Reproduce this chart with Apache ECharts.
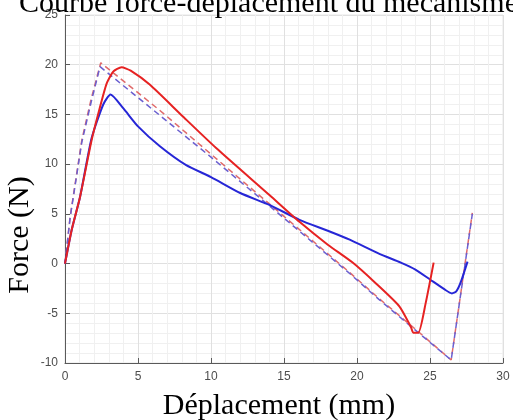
<!DOCTYPE html>
<html>
<head>
<meta charset="utf-8">
<script src="https://cdn.jsdelivr.net/npm/echarts@6/dist/echarts.min.js"></script>
<style>
  html, body { margin: 0; padding: 0; background: #fff; }
  #chart { width: 513px; height: 420px; }
</style>
</head>
<body>
<div id="chart"></div>
<script>
// values (x in mm, y in N)
const redSolidX = [0, 0.46, 1.03, 1.82, 2.3, 2.85, 3.3, 3.87, 4.5, 5.8, 8, 10.37, 14, 16.06, 18, 19.7, 21.3, 22.9, 23.7, 23.85, 24.2, 24.7, 25.25]
const redSolidY = [0, 3.4, 6.7, 12.4, 15.2, 18.1, 19.3, 19.75, 19.4, 18.0, 14.9, 11.6, 6.9, 4.2, 1.9, 0.1, -2.0, -4.3, -6.4, -6.95, -6.95, -4.0, 0.1]

const blueSolidX = [0, 0.46, 1.03, 1.82, 2.62, 3.12, 4.0, 5.0, 6.5, 8.3, 10, 12, 14, 16.06, 18, 19.5, 21.5, 23.0, 24.0, 25.0, 26.0, 26.5, 26.8, 27.1, 27.57]
const blueSolidY = [0, 3.4, 6.7, 12.6, 16.0, 17.0, 15.6, 13.8, 11.8, 9.9, 8.7, 7.1, 5.9, 4.4, 3.3, 2.4, 1.0, 0.1, -0.6, -1.6, -2.6, -3.0, -2.8, -1.9, 0.2]

const redDashX = [0, 0.35, 1.15, 1.8, 2.45, 6.5, 10, 14, 19.5, 21.5, 24, 26.45, 27.9]
const redDashY = [0, 4.7, 12.4, 16.6, 20.2, 15.4, 11.0, 6.0, -0.9, -3.5, -6.6, -9.7, 5.1]

const blueDashX = [0, 0.35, 1.15, 1.8, 2.4, 6.5, 10, 14, 19.5, 21.5, 24, 26.45, 27.9]
const blueDashY = [0, 4.6, 12.2, 16.3, 19.8, 14.9, 10.7, 5.8, -1.0, -3.6, -6.7, -9.7, 5.0]

const titleText = 'Courbe force-déplacement du mécanisme'
const xName = 'Déplacement (mm)'
const yName = 'Force (N)'

const zip = (xs, ys) => xs.map((x, i) => [x, ys[i]])

const serif = 'Liberation Serif'
const axisGray = '#5a5a5a'

function axisCommon() {
  return {
    type: 'value',
    interval: 5,
    axisLine: { show: true, onZero: false, lineStyle: { color: axisGray, width: 1 } },
    axisTick: { show: true, inside: true, length: 5, lineStyle: { color: axisGray } },
    splitLine: { show: true, lineStyle: { color: '#e0e0e0', width: 1 } },
    minorTick: { show: false, splitNumber: 5 },
    minorSplitLine: { show: true, lineStyle: { color: '#f0f0f0', width: 1 } },
  }
}

const chart = echarts.init(document.getElementById('chart'))

chart.setOption({
  animation: false,
  title: {
    text: titleText,
    left: 14,
    top: -16,
    textStyle: { fontFamily: serif, fontSize: 30, fontWeight: 'normal', color: '#000' },
  },
  grid: {
    left: 65, right: 10, top: 15, bottom: 57,
    outerBoundsMode: 'none',
    containLabel: false,
    show: true, borderColor: '#e6e6e6', borderWidth: 1,
  },
  // the y label sits lower than the axis middle in the original
  graphic: [{
    type: 'text',
    x: 20, y: 235,
    rotation: Math.PI / 2,
    style: {
      text: yName, fontFamily: serif, fontSize: 30, fill: '#000',
      textAlign: 'center', textVerticalAlign: 'middle',
    },
  }],
  xAxis: Object.assign(axisCommon(), {
    min: 0, max: 30,
    name: xName,
    nameLocation: 'middle',
    nameGap: 28,
    nameTextStyle: { fontFamily: serif, fontSize: 30, color: '#000', padding: [0, 10, 0, 0] },
    axisLabel: { color: '#4d4d4d', fontFamily: 'Liberation Sans', fontSize: 12, margin: 8 },
  }),
  yAxis: Object.assign(axisCommon(), {
    min: -10, max: 25,
    axisLabel: { color: '#4d4d4d', fontFamily: 'Liberation Sans', fontSize: 12, margin: 7 },
  }),
  series: [
    {
      type: 'line', data: zip(redDashX, redDashY), showSymbol: false,
      lineStyle: { color: '#e06a6a', width: 1.5, type: [6, 4] },
    },
    {
      type: 'line', data: zip(blueDashX, blueDashY), showSymbol: false,
      lineStyle: { color: '#6a5fd0', width: 1.5, type: [6, 4] },
    },
    {
      type: 'line', data: zip(blueSolidX, blueSolidY), showSymbol: false, smooth: 0.2,
      lineStyle: { color: '#2626d6', width: 2 },
    },
    {
      type: 'line', data: zip(redSolidX, redSolidY), showSymbol: false, smooth: 0.2,
      lineStyle: { color: '#e62222', width: 2 },
    },
  ],
})
</script>
</body>
</html>
